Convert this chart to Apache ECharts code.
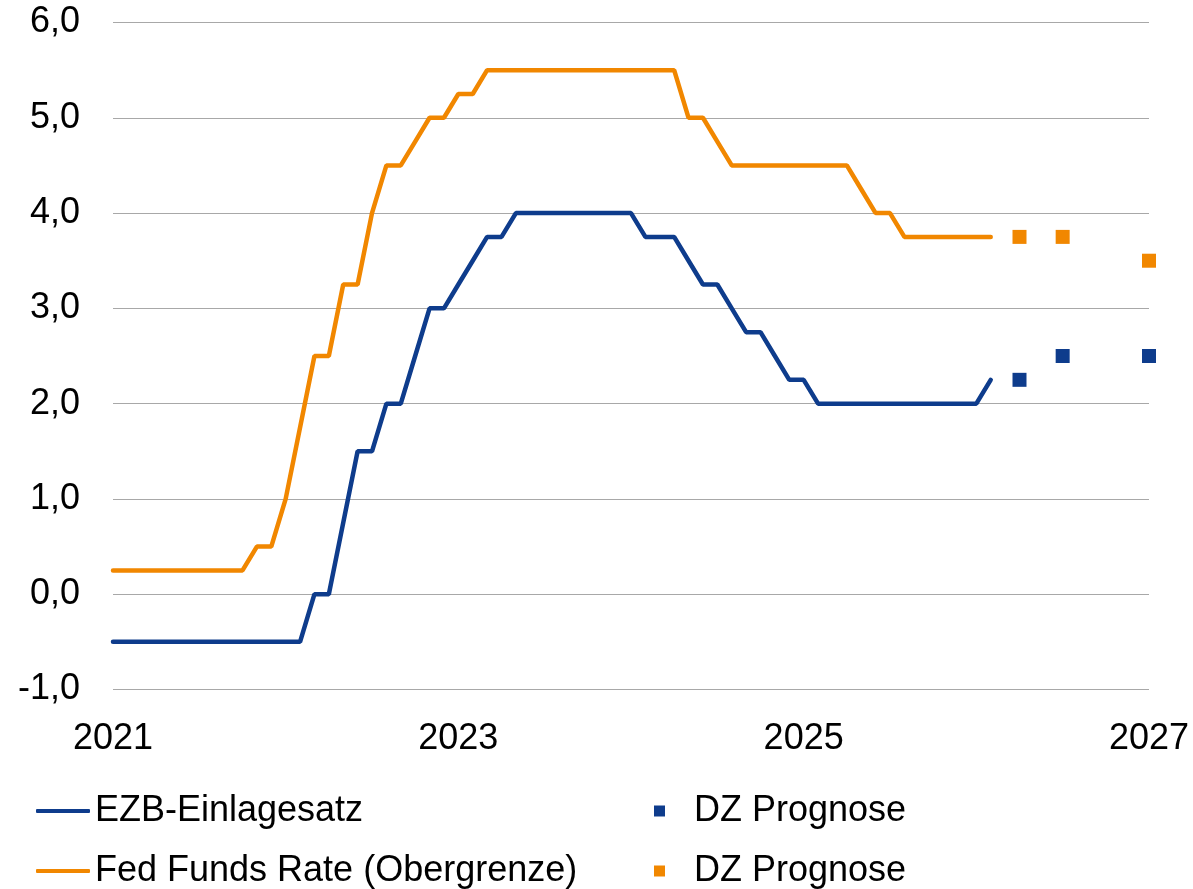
<!DOCTYPE html>
<html>
<head>
<meta charset="utf-8">
<script src="https://cdn.jsdelivr.net/npm/echarts@6/dist/echarts.min.js"></script>
<style>
  html, body { margin: 0; padding: 0; background: #fff; }
  #chart { width: 1193px; height: 889px; }
</style>
</head>
<body>
<div id="chart"></div>
<script>
// monthly values, starting with the first month on the x axis
const ezbRate = [
  -0.5, -0.5, -0.5, -0.5, -0.5, -0.5, -0.5, -0.5, -0.5, -0.5, -0.5, -0.5,
  -0.5, -0.5, 0.0, 0.0, 0.75, 1.5, 1.5, 2.0, 2.0, 2.5, 3.0, 3.0,
  3.25, 3.5, 3.75, 3.75, 4.0, 4.0, 4.0, 4.0, 4.0, 4.0, 4.0, 4.0,
  4.0, 3.75, 3.75, 3.75, 3.5, 3.25, 3.25, 3.0, 2.75, 2.75, 2.5, 2.25,
  2.25, 2.0, 2.0, 2.0, 2.0, 2.0, 2.0, 2.0, 2.0, 2.0, 2.0, 2.0,
  2.0, 2.25
]
const fedRate = [
  0.25, 0.25, 0.25, 0.25, 0.25, 0.25, 0.25, 0.25, 0.25, 0.25, 0.5, 0.5,
  1.0, 1.75, 2.5, 2.5, 3.25, 3.25, 4.0, 4.5, 4.5, 4.75, 5.0, 5.0,
  5.25, 5.25, 5.5, 5.5, 5.5, 5.5, 5.5, 5.5, 5.5, 5.5, 5.5, 5.5,
  5.5, 5.5, 5.5, 5.5, 5.0, 5.0, 4.75, 4.5, 4.5, 4.5, 4.5, 4.5,
  4.5, 4.5, 4.5, 4.5, 4.25, 4.0, 4.0, 3.75, 3.75, 3.75, 3.75, 3.75,
  3.75, 3.75
]
const forecastMonths = ['2026-04', '2026-07', '2027-01']
const ezbForecast = [2.25, 2.5, 2.5]
const fedForecast = [3.75, 3.75, 3.5]
const yTicks = [-1, 0, 1, 2, 3, 4, 5, 6]

const blue = '#0E3C8C'
const orange = '#F18700'

let months = []
for (let y = 2021; y <= 2027; y++) {
  for (let m = 1; m <= 12; m++) {
    if (y === 2027 && m > 1) break
    months.push(y + '-' + (m < 10 ? '0' + m : m))
  }
}

const labelFont = { fontFamily: 'Liberation Sans, Arial, sans-serif', fontSize: 36, color: '#000' }

// one legend per entry so every item can sit exactly where it is in the original
function legendItem (name, left, top, lineIcon) {
  return {
    left: left,
    top: top,
    itemWidth: lineIcon ? 54 : 11,
    itemHeight: lineIcon ? 4 : 11,
    icon: lineIcon ? 'roundRect' : 'rect',
    textStyle: Object.assign({ lineHeight: 40, padding: [0, 0, 0, lineIcon ? 0 : 24] }, labelFont),
    data: [name]
  }
}

const myChart = echarts.init(document.getElementById('chart'))
myChart.setOption({
  animation: false,
  grid: { left: 113, right: 44, top: 22.5, bottom: 199.5, containLabel: false },
  xAxis: {
    type: 'category',
    data: months,
    boundaryGap: false,
    axisLine: { show: false },
    axisTick: { show: false },
    splitLine: { show: false },
    axisLabel: Object.assign({
      interval: 23,
      margin: 32,
      formatter: v => v.slice(0, 4)
    }, labelFont)
  },
  yAxis: {
    type: 'value',
    min: yTicks[0],
    max: yTicks[yTicks.length - 1],
    interval: 1,
    axisLine: { show: false },
    axisTick: { show: false },
    splitLine: { lineStyle: { color: '#A8A8A8', width: 1 } },
    axisLabel: Object.assign({
      margin: 33,
      formatter: v => v.toFixed(1).replace('.', ',')
    }, labelFont)
  },
  legend: [
    legendItem('EZB-Einlagesatz', 31, 786, true),
    legendItem('Fed Funds Rate (Obergrenze)', 31, 846, true),
    legendItem('DZ Prognose', 649, 786, false),
    legendItem('DZ Prognose ', 649, 846, false)
  ],
  series: [
    {
      name: 'EZB-Einlagesatz',
      type: 'line',
      data: ezbRate,
      symbol: 'none',
      itemStyle: { color: blue },
      lineStyle: { color: blue, width: 4.5, cap: 'round' }
    },
    {
      name: 'Fed Funds Rate (Obergrenze)',
      type: 'line',
      data: fedRate,
      symbol: 'none',
      itemStyle: { color: orange },
      lineStyle: { color: orange, width: 4.5, cap: 'round' }
    },
    {
      name: 'DZ Prognose',
      type: 'scatter',
      symbol: 'rect',
      symbolSize: 14,
      itemStyle: { color: blue, opacity: 1 },
      data: forecastMonths.map((m, i) => [m, ezbForecast[i]])
    },
    {
      name: 'DZ Prognose ',
      type: 'scatter',
      symbol: 'rect',
      symbolSize: 14,
      itemStyle: { color: orange, opacity: 1 },
      data: forecastMonths.map((m, i) => [m, fedForecast[i]])
    }
  ]
})
</script>
</body>
</html>
